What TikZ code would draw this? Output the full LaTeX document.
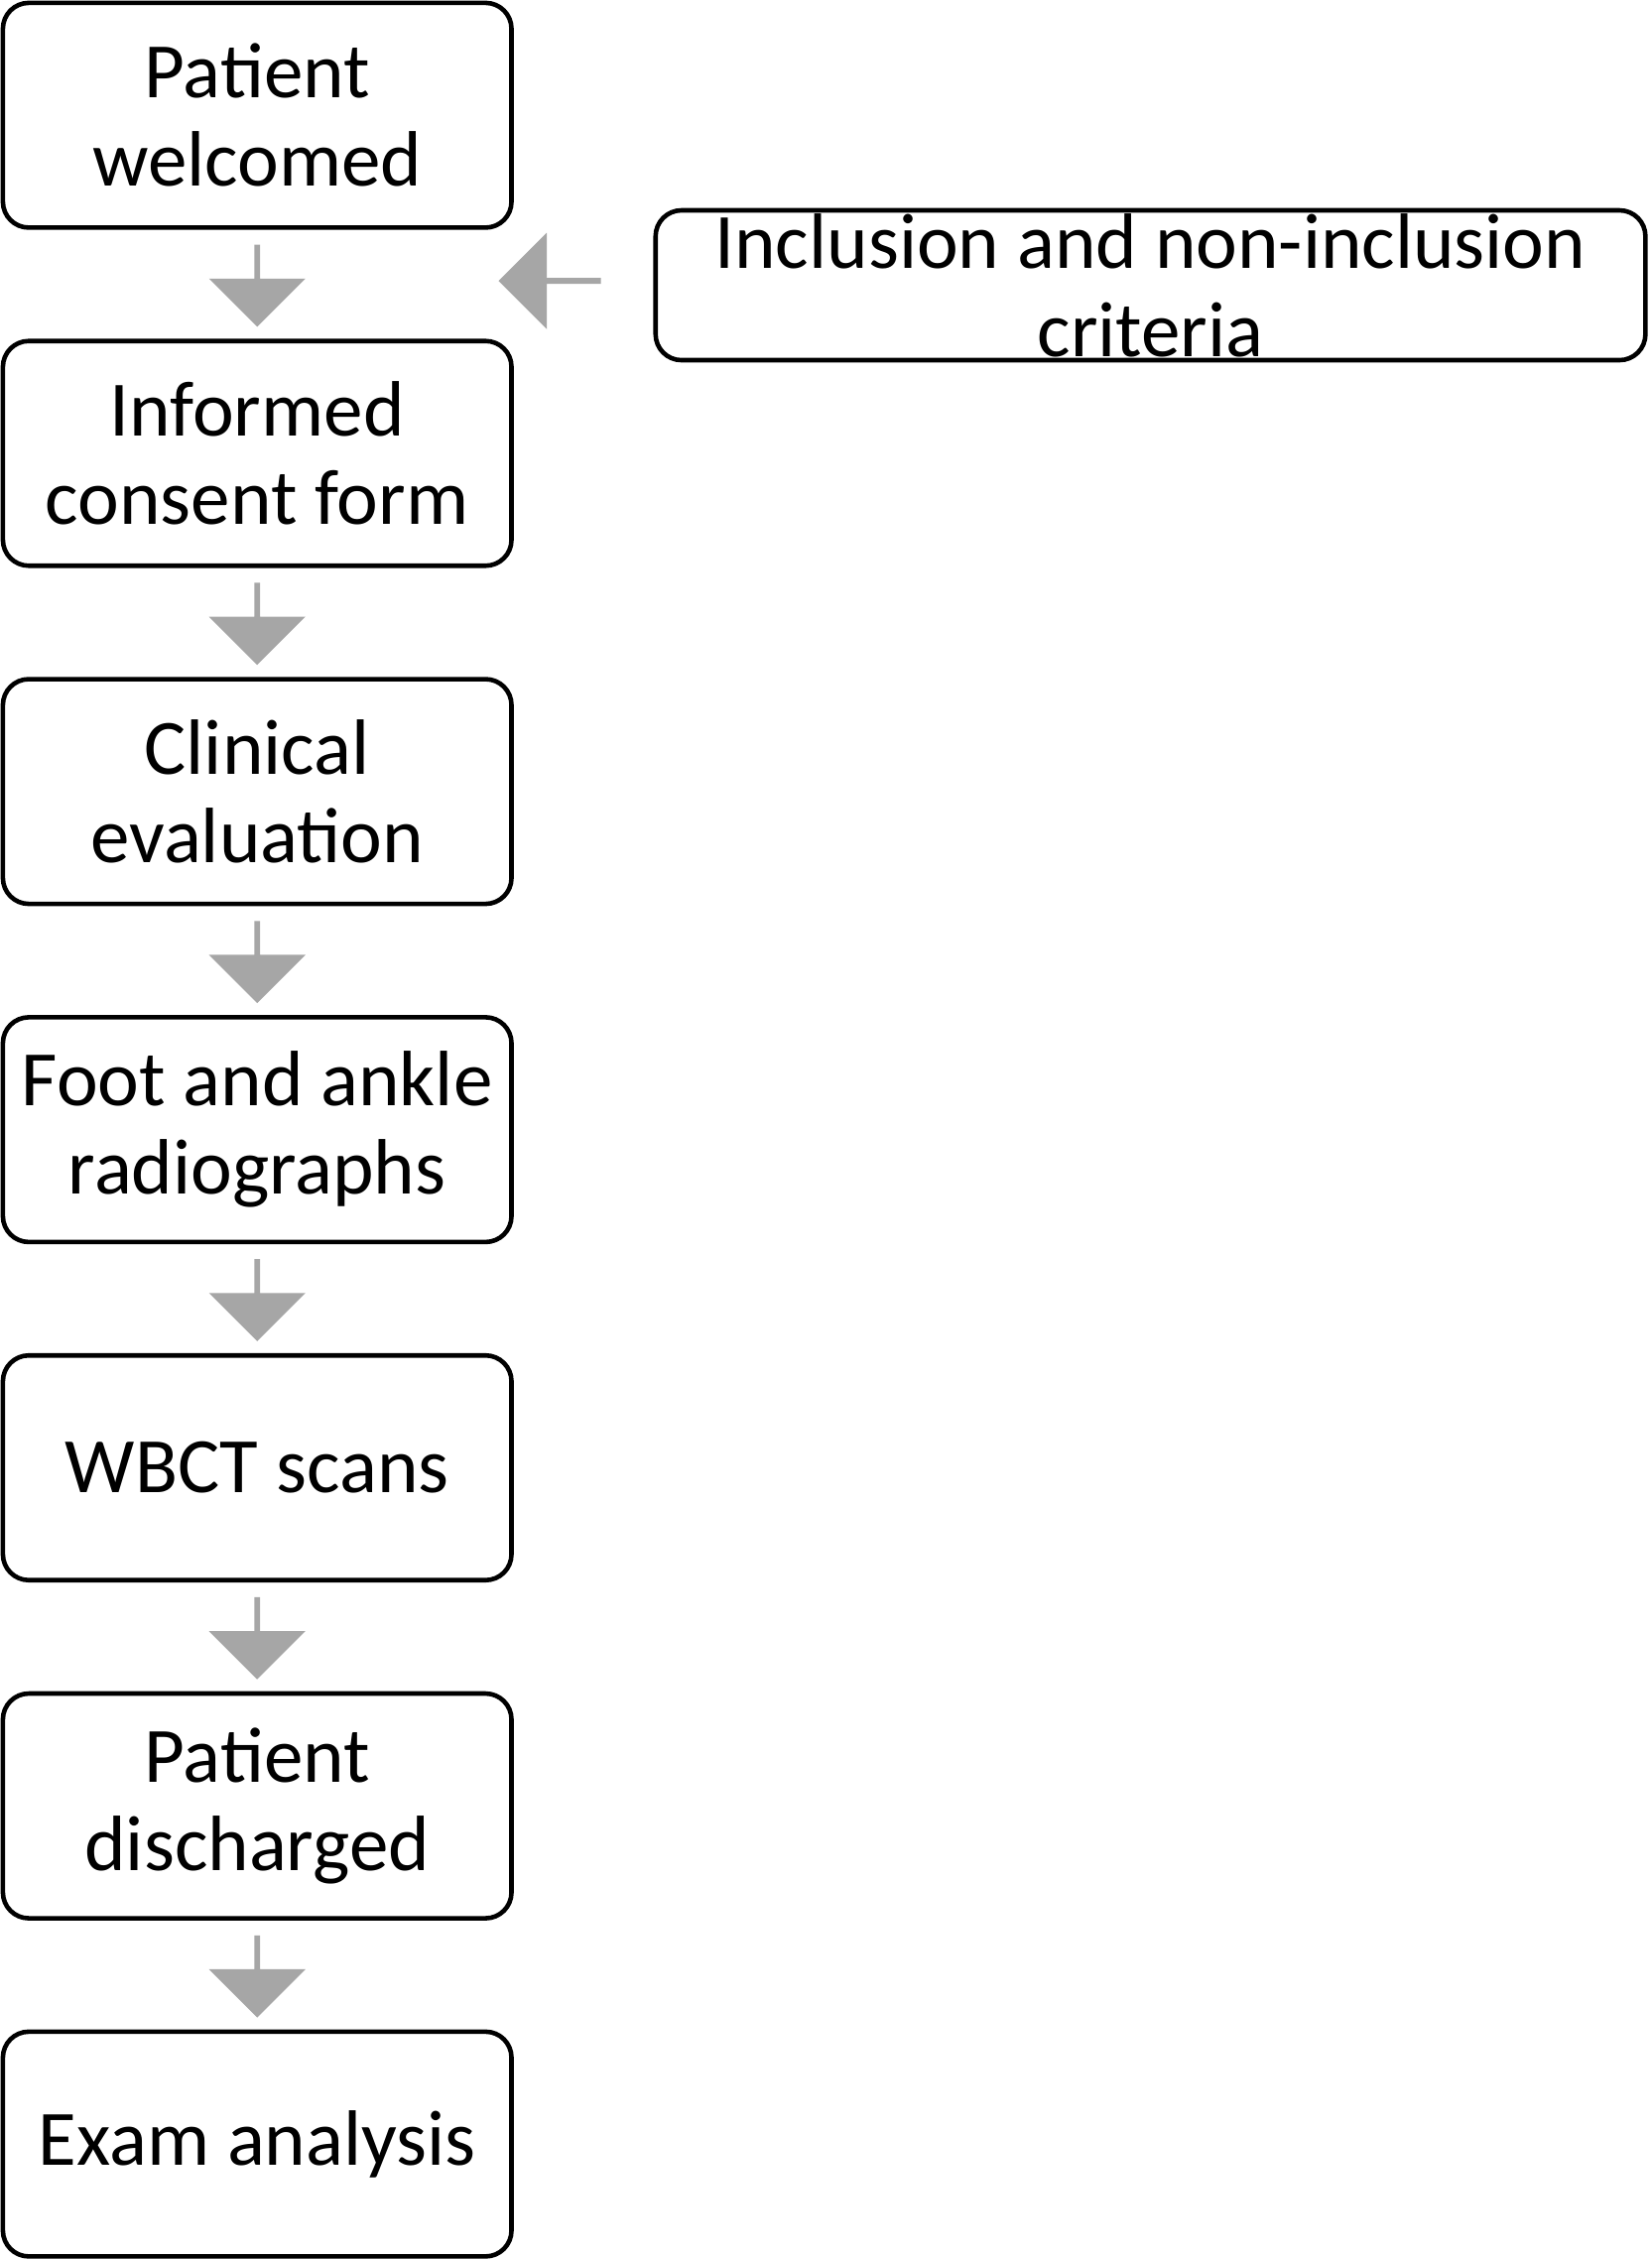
\documentclass[tikz,border=0pt]{standalone}
\usepackage{fontspec}
\setmainfont{Carlito}
\usetikzlibrary{shapes.arrows,calc}
\begin{document}
\begin{tikzpicture}
\tikzset{stepbox/.style={draw,rounded corners=0.18cm,line width=0.9pt,minimum width=3.53cm,minimum height=1.56cm,align=center,inner sep=0pt,font=\fontsize{15.5}{17.5}\selectfont},
grayarrow/.style={single arrow,fill=gray!70,draw=none,minimum width=0.67cm,minimum height=#1,single arrow head extend=0.11cm,single arrow head indent=0cm,inner sep=0pt}}
\useasboundingbox (0,0) rectangle (11.46,-15.68);
\node[stepbox] (b1) at (1.785,-0.80) {Patient\\welcomed};
\node[stepbox] (b2) at (1.785,-3.147) {Informed\\consent form};
\node[stepbox] (b3) at (1.785,-5.494) {Clinical\\evaluation};
\node[stepbox] (b4) at (1.785,-7.841) {Foot and ankle\\radiographs};
\node[stepbox] (b5) at (1.785,-10.188) {WBCT scans};
\node[stepbox] (b6) at (1.785,-12.535) {Patient\\discharged};
\node[stepbox] (b7) at (1.785,-14.882) {Exam analysis};
\node[stepbox,minimum width=6.87cm,minimum height=1.04cm] (crit) at (7.985,-1.98) {Inclusion and non-inclusion\\criteria};
\foreach \a/\b in {b1/b2,b2/b3,b3/b4,b4/b5,b5/b6,b6/b7}
\node[grayarrow=0.57cm,rotate=-90] (arr-\a) at ($(\a.south)!0.5!(\b.north)$) {};
\node[grayarrow=0.71cm,rotate=180] (arr-crit) at (3.825,-1.95) {};
\end{tikzpicture}
\end{document}
